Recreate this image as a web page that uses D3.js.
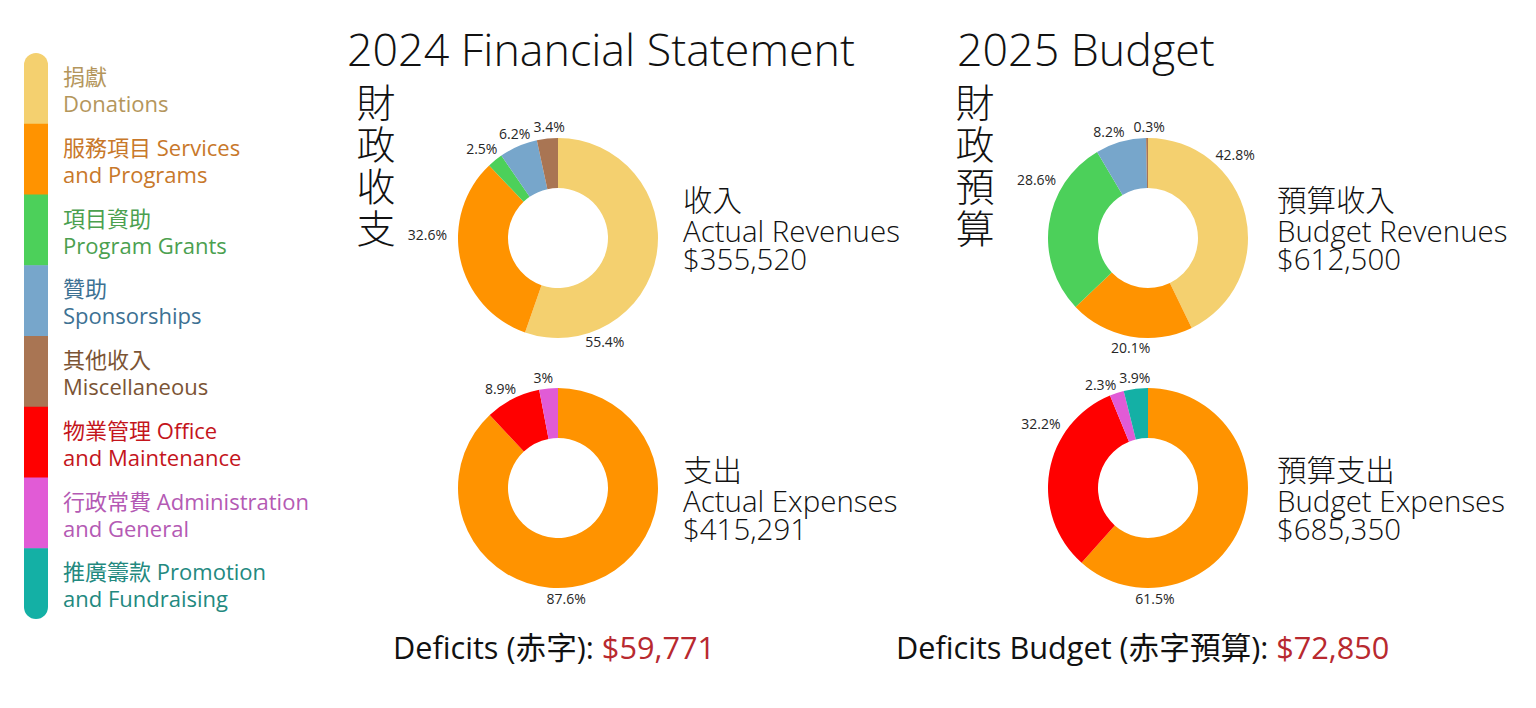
<!DOCTYPE html>
<html>
<head>
<meta charset="utf-8">
<script src="https://cdn.jsdelivr.net/npm/d3@7/dist/d3.min.js"></script>
<style>
  html, body { margin: 0; padding: 0; background: #fff; }
  svg { display: block; }
</style>
</head>
<body>
<svg id="chart" width="1536" height="708"></svg>
<script>
// ---------------- DATA ----------------
const categories = ["Donations", "Services", "Grants", "Sponsorships", "Misc", "Office", "Admin", "Promotion"];
const legendLines = [
  ["捐獻", "Donations"],
  ["服務項目 Services", "and Programs"],
  ["項目資助", "Program Grants"],
  ["贊助", "Sponsorships"],
  ["其他收入", "Miscellaneous"],
  ["物業管理 Office", "and Maintenance"],
  ["行政常費 Administration", "and General"],
  ["推廣籌款 Promotion", "and Fundraising"]
];

const revenue2024Cats = ["Donations", "Services", "Grants", "Sponsorships", "Misc"];
const revenue2024Pct  = [55.4, 32.6, 2.5, 6.2, 3.4];
const expense2024Cats = ["Services", "Office", "Admin"];
const expense2024Pct  = [87.6, 8.9, 3.0];
const revenue2025Cats = ["Donations", "Services", "Grants", "Sponsorships", "Misc"];
const revenue2025Pct  = [42.8, 20.1, 28.6, 8.2, 0.3];
const expense2025Cats = ["Services", "Office", "Admin", "Promotion"];
const expense2025Pct  = [61.5, 32.2, 2.3, 3.9];

const totalRevenue2024 = 355520;
const totalExpense2024 = 415291;
const totalRevenue2025 = 612500;
const totalExpense2025 = 685350;

// ---------------- STYLES / LAYOUT ----------------
const sliceColors = ["#F4D06F", "#FF9300", "#4CD05A", "#77A6CB", "#A97553", "#FF0000", "#E15BD6", "#14B0A5"];
const legendTextColors = ["#B4965C", "#C8782A", "#4BA04F", "#3D7193", "#7B5434", "#C4151C", "#B45AB4", "#23897F"];
const FONT = "'Open Sans', 'Noto Sans CJK TC', sans-serif";
const CJK = "'Noto Sans CJK TC', 'Open Sans', sans-serif";

const layout = {
  R: 100, r: 50, labelR: 111, pctSize: 14,
  legend: { x: 24, w: 24, y0: 53, y1: 619, textX: 63, line1: 32, line2: 59, fitWidth: 164 },
  donuts: [
    { key: "rev2024", cx: 558, cy: 238, angles: [159, 271.6, 323, 340, 356] },
    { key: "exp2024", cx: 558, cy: 488, angles: [176.4, 333, 353] },
    { key: "rev2025", cx: 1148, cy: 238, angles: [41.8, 187.6, 301.4, 342, 0.5] },
    { key: "exp2025", cx: 1148, cy: 488, angles: [177, 305, 338, 354] }
  ]
};

const svg = d3.select("#chart");
const color = d3.scaleOrdinal().domain(categories).range(sliceColors);
const textColor = d3.scaleOrdinal().domain(categories).range(legendTextColors);

// helper: find font size making text fit a target width
function fitSize(text, family, weight, target) {
  const t = svg.append("text").attr("font-family", family).attr("font-weight", weight)
    .attr("font-size", 100).text(text);
  const len = t.node().getComputedTextLength();
  t.remove();
  return 100 * target / len;
}

// ---------------- LEGEND ----------------
const L = layout.legend;
const yBand = d3.scaleBand().domain(categories).range([L.y0, L.y1]);
const defs = svg.append("defs");
defs.append("clipPath").attr("id", "legendClip")
  .append("rect").attr("x", L.x).attr("y", L.y0).attr("width", L.w)
  .attr("height", L.y1 - L.y0).attr("rx", L.w / 2).attr("ry", L.w / 2);

const lg = svg.append("g");
lg.append("g").attr("clip-path", "url(#legendClip)")
  .selectAll("rect").data(categories).join("rect")
  .attr("x", L.x).attr("width", L.w)
  .attr("y", d => yBand(d)).attr("height", yBand.bandwidth() + 0.5)
  .attr("fill", d => color(d));

const legendSize = fitSize("Program Grants", FONT, 400, L.fitWidth);
const lt = lg.selectAll("text.leg").data(categories).join("text")
  .attr("class", "leg")
  .attr("font-family", FONT).attr("font-size", legendSize)
  .attr("fill", d => textColor(d));
lt.append("tspan").attr("x", L.textX).attr("y", d => yBand(d) + L.line1)
  .text((d, i) => legendLines[i][0]);
lt.append("tspan").attr("x", L.textX).attr("y", d => yBand(d) + L.line2)
  .text((d, i) => legendLines[i][1]);

// ---------------- TITLES ----------------
const titleSize = fitSize("2024 Financial Statement", FONT, 300, 508);
svg.append("text").attr("x", 347).attr("y", 66)
  .attr("font-family", FONT).attr("font-weight", 300).attr("font-size", titleSize)
  .attr("fill", "#111").text("2024 Financial Statement");
svg.append("text").attr("x", 957).attr("y", 66)
  .attr("font-family", FONT).attr("font-weight", 300).attr("font-size", titleSize)
  .attr("fill", "#111").text("2025 Budget");

// vertical chinese labels
function vertical(x, chars) {
  svg.append("g").selectAll("text").data(chars).join("text")
    .attr("x", x).attr("y", (d, i) => 117 + i * 42)
    .attr("text-anchor", "middle")
    .attr("font-family", CJK).attr("font-weight", 300).attr("font-size", 39)
    .attr("fill", "#111").text(d => d);
}
vertical(376, ["財", "政", "收", "支"]);
vertical(975, ["財", "政", "預", "算"]);

// ---------------- DONUTS ----------------
const pie = d3.pie().sort(null).value(d => d.v);
const arc = d3.arc().innerRadius(layout.r).outerRadius(layout.R);
const pctFmt = d3.format(".1~f");
const seriesMap = {
  rev2024: revenue2024Cats.map((c, i) => ({ c, v: revenue2024Pct[i] })),
  exp2024: expense2024Cats.map((c, i) => ({ c, v: expense2024Pct[i] })),
  rev2025: revenue2025Cats.map((c, i) => ({ c, v: revenue2025Pct[i] })),
  exp2025: expense2025Cats.map((c, i) => ({ c, v: expense2025Pct[i] }))
};

layout.donuts.forEach(dn => {
  const data = seriesMap[dn.key];
  const g = svg.append("g").attr("transform", `translate(${dn.cx},${dn.cy})`);
  g.selectAll("path").data(pie(data)).join("path")
    .attr("d", arc).attr("fill", d => color(d.data.c));
  const labels = g.selectAll("text").data(pie(data)).join("text")
    .attr("font-family", FONT).attr("font-size", layout.pctSize)
    .attr("fill", "#262626").attr("text-anchor", "middle")
    .text(d => pctFmt(d.data.v) + "%");
  labels.each(function(d, i) {
    const a = dn.angles[i] * Math.PI / 180;
    const hw = this.getComputedTextLength() / 2;
    const x = layout.labelR * Math.sin(a) + hw * Math.sin(a);
    const y = -layout.labelR * Math.cos(a) + layout.pctSize * 0.35;
    d3.select(this).attr("x", x).attr("y", y);
  });
});

// ---------------- DESCRIPTIONS ----------------
const money = v => "$" + d3.format(",")(v);
const descSize = fitSize("Actual Revenues", FONT, 300, 217);
function desc(x, y, lines) {
  const t = svg.append("text").attr("font-family", FONT).attr("font-weight", 300)
    .attr("font-size", descSize).attr("fill", "#111");
  lines.forEach((s, i) => {
    t.append("tspan").attr("x", x).attr("y", y + [0, 31, 59][i])
      .attr("font-family", i === 0 ? CJK : FONT).text(s);
  });
}
desc(683, 211, ["收入", "Actual Revenues", money(totalRevenue2024)]);
desc(683, 481, ["支出", "Actual Expenses", money(totalExpense2024)]);
desc(1277, 211, ["預算收入", "Budget Revenues", money(totalRevenue2025)]);
desc(1277, 481, ["預算支出", "Budget Expenses", money(totalExpense2025)]);

// ---------------- DEFICITS ----------------
const defSize = fitSize("Deficits (赤字): $59,771", FONT, 400, 322);
function deficit(x, label, value) {
  const t = svg.append("text").attr("x", x).attr("y", 659)
    .attr("font-family", FONT).attr("font-size", defSize).attr("fill", "#111");
  t.append("tspan").text(label);
  t.append("tspan").attr("fill", "#B8292F").text(money(value));
}
deficit(393, "Deficits (赤字): ", totalExpense2024 - totalRevenue2024);
deficit(896, "Deficits Budget (赤字預算): ", totalExpense2025 - totalRevenue2025);
</script>
</body>
</html>
